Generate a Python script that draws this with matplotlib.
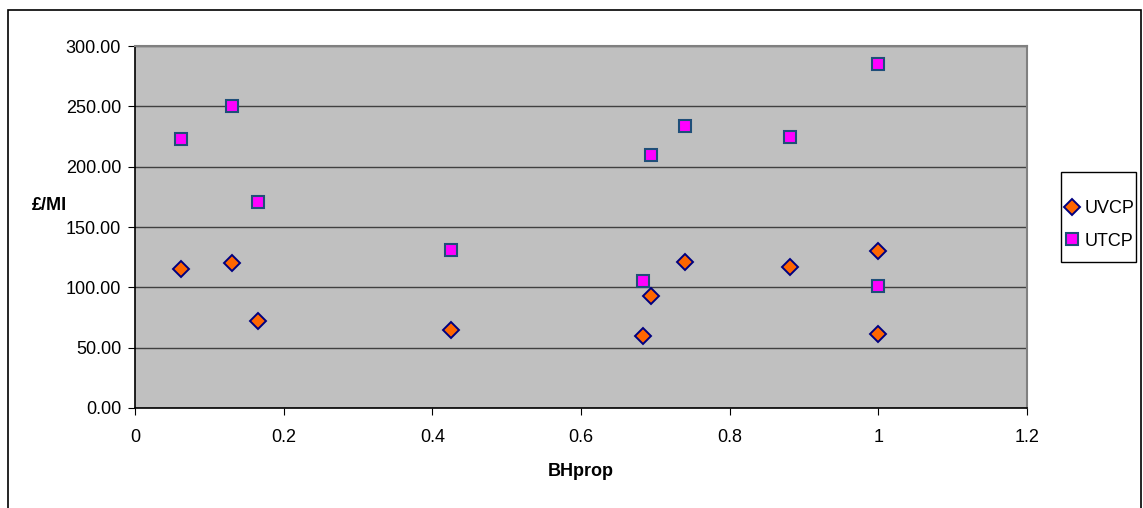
import matplotlib
matplotlib.use("Agg")
import matplotlib.pyplot as plt
from matplotlib.patches import Rectangle

plt.rcParams['font.family'] = ['Liberation Sans', 'DejaVu Sans']

bhprop = [0.062, 0.131, 0.166, 0.425, 0.683, 0.694, 0.740, 0.881, 1.0, 1.0]
uvcp = [115, 120, 72, 65, 60, 93, 121, 117, 130, 61]
utcp = [223, 250, 171, 131, 105, 210, 234, 225, 285, 101]
xticks = [0, 0.2, 0.4, 0.6, 0.8, 1.0, 1.2]
xticklabels = ['0', '0.2', '0.4', '0.6', '0.8', '1', '1.2']
yticks = [0, 50, 100, 150, 200, 250, 300]

W, H = 1143, 508
fig = plt.figure(figsize=(W/100, H/100), dpi=100)
ax = fig.add_axes([135/W, 1-408/H, (1027-135)/W, (408-46)/H])
ax.set_facecolor('#C0C0C0')

ax.plot(bhprop, uvcp, linestyle='none', marker='D', ms=8, mfc='#FF6600',
        mec='#000080', mew=1.4, label='UVCP', zorder=3)
ax.plot(bhprop, utcp, linestyle='none', marker='s', ms=9, mfc='#FF00FF',
        mec='#1F4E79', mew=1.5, label='UTCP', zorder=3)

ax.set_xlim(0, 1.2)
ax.set_ylim(0, 300)
ax.set_xticks(xticks)
ax.set_xticklabels(xticklabels)
ax.set_yticks(yticks)
ax.set_yticklabels([f'{v:.2f}' for v in yticks])
ax.yaxis.grid(True, color='#404040', linewidth=1)
ax.set_axisbelow(True)
ax.tick_params(direction='out', length=5, labelsize=13, color='black')
ax.tick_params(axis='x', pad=10)
ax.tick_params(axis='y', pad=5)
for s in ['left', 'bottom']:
    ax.spines[s].set_color('black')
    ax.spines[s].set_linewidth(1.2)
for s in ['top', 'right']:
    ax.spines[s].set_color('#808080')
    ax.spines[s].set_linewidth(1.5)

ax.set_xlabel('BHprop', fontweight='bold', fontsize=13, va='center')
ax.xaxis.set_label_coords((581-135)/892, -(472-408)/362)
ax.set_ylabel('£/MI', fontweight='bold', fontsize=13, rotation=0,
              ha='center', va='center')
ax.yaxis.set_label_coords((49-135)/892, (408-205)/362)

leg = fig.legend(loc='center left', bbox_to_anchor=(1065/W, 1-225/H),
                 frameon=False, fontsize=13, handletextpad=0.3,
                 handlelength=0.8, borderpad=0.0, labelspacing=0.85,
                 borderaxespad=0)

fig.patches.append(Rectangle((1061/W, 1-262/H), (1136-1061)/W, (262-172)/H,
                             transform=fig.transFigure, fill=False,
                             edgecolor='black', linewidth=1))
fig.patches.append(Rectangle((8/W, -0.02), (1141-8)/W, 1.02 - 10/H,
                             transform=fig.transFigure, fill=False,
                             edgecolor='black', linewidth=1.2))

fig.savefig('out.png', dpi=100)
